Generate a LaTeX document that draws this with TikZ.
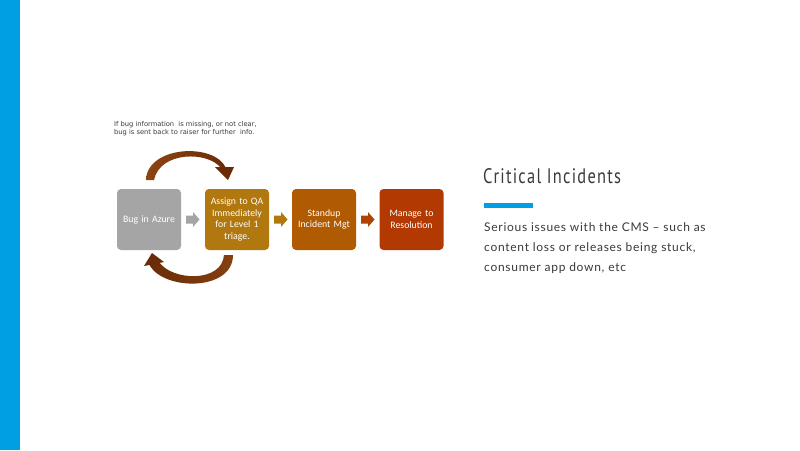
\documentclass[tikz,border=0pt]{standalone}
\usepackage{fontspec}
\setmainfont{Carlito}
\newfontfamily\latofont{Lato}
\newfontfamily\titlefont[FakeStretch=0.78]{PT Sans}
\newfontfamily\notefont{DejaVu Sans}
\definecolor{barblue}{HTML}{009FE3}
\definecolor{cgray}{HTML}{A5A5A5}
\definecolor{cgold}{HTML}{B0780E}
\definecolor{corange}{HTML}{B05A02}
\definecolor{cred}{HTML}{B23A02}
\definecolor{cbrownA}{HTML}{8C4512}
\definecolor{cbrownB}{HTML}{6A2C08}
\definecolor{textgray}{HTML}{3A3A3A}
\tikzset{
  stepbox/.style={rounded corners=4pt, minimum width=62pt, minimum height=61pt, inner sep=1pt,
    text=white, align=center, font=\fontsize{9.8}{11.6}\selectfont, text width=62pt},
}
\begin{document}
\begin{tikzpicture}[x=1pt,y=-1pt]
\useasboundingbox (0,0) rectangle (800,450);
\fill[white] (0,0) rectangle (800,450);
\fill[barblue] (0,0) rectangle (20,450);
% boxes
\node[stepbox, fill=cgray] (bug) at (149,219.5) {Bug in Azure};
\node[stepbox, fill=cgold] (qa) at (237,219.5) {Assign to QA Immediately for Level~1 triage.};
\node[stepbox, fill=corange] (inc) at (324,219.5) {Standup Incident Mgt};
\node[stepbox, fill=cred] (res) at (411.5,219.5) {Manage to Resolution};
% block arrows
\fill[cgray] (186,215.5) -- (193,215.5) -- (193,212) -- (199.5,219.5) -- (193,227) -- (193,223.5) -- (186,223.5) -- cycle;
\fill[cgold] (274,215.5) -- (281,215.5) -- (281,212) -- (287.5,219.5) -- (281,227) -- (281,223.5) -- (274,223.5) -- cycle;
\fill[cred!70!corange] (361,215.5) -- (368,215.5) -- (368,212) -- (374.5,219.5) -- (368,227) -- (368,223.5) -- (361,223.5) -- cycle;
% curved arrows
\shade[left color=cbrownA, right color=cbrownB]
  (146,180) .. controls (147,146) and (214,142) .. (226,168)
  -- (221,168) .. controls (208,151) and (160,151) .. (154,180) -- cycle;
\fill[cbrownB] (215,167) -- (234,167) -- (228,180) -- cycle;
\shade[left color=cbrownB, right color=cbrownA!80!cbrownB]
  (233,255) .. controls (233,292) and (162,291) .. (149,264)
  -- (159,262) .. controls (172,281) and (222,283) .. (224,255) -- cycle;
\fill[cbrownB] (152,253) -- (164,262) -- (144,266) -- cycle;
% note text
\node[anchor=west, inner sep=0pt, align=left, text=textgray, font=\notefont\fontsize{6.7}{8}\selectfont] (note) at (114,129)
  {If bug information\ \ is missing, or not clear,\\bug is sent back to raiser for further\ \ info.};
% right side
\node[anchor=west, inner sep=0pt, text=textgray, font=\titlefont\addfontfeatures{LetterSpace=6}\fontsize{21}{24}\selectfont] (title) at (483,176) {Critical Incidents};
\fill[barblue] (484,203) rectangle (533,207.5);
\node[anchor=north west, inner sep=0pt, align=left, text=textgray, font=\latofont\addfontfeatures{LetterSpace=6}\fontsize{12}{20}\selectfont] (body) at (484,222)
  {Serious issues with the CMS – such as\\content\ loss or releases being stuck,\\consumer\ app down, etc};
\end{tikzpicture}
\end{document}
